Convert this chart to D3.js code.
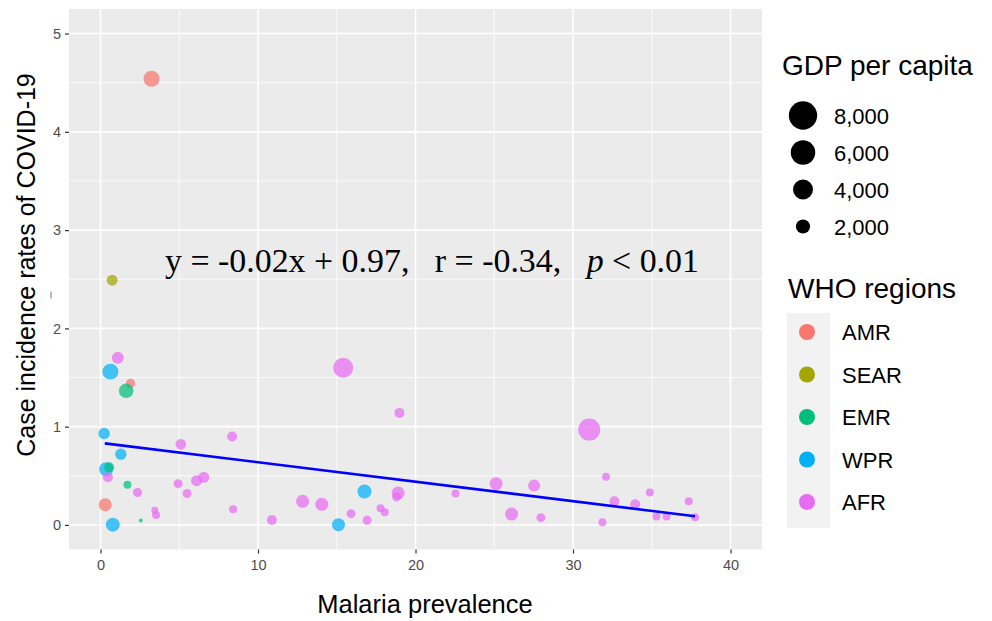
<!DOCTYPE html>
<html>
<head>
<meta charset="utf-8">
<script src="https://cdn.jsdelivr.net/npm/d3@7"></script>
<style>
  body { margin: 0; background: #fff; }
  svg { font-family: Arial, "Liberation Sans", sans-serif; }
</style>
</head>
<body>
<svg id="graph" width="992" height="621"></svg>
<script>
// WHO region colours (ggplot default hue palette)
const regions = ['AMR', 'SEAR', 'EMR', 'WPR', 'AFR']
const regionColors = ['#F8766D', '#A3A500', '#00BF7D', '#00B0F6', '#E76BF3']

// one entry per country
const region = ['AMR','SEAR','AFR','WPR','AMR','EMR','WPR','AFR','AFR','WPR',
  'WPR','EMR','AFR','EMR','AFR','AMR','WPR','EMR','AFR','AFR',
  'AFR','AFR','AFR','AFR','AFR','AFR','AFR','AFR','AFR','WPR',
  'WPR','AFR','AFR','AFR','AFR','AFR','AFR','AFR','AFR','AFR',
  'AFR','AFR','AFR','AFR','AFR','AFR','AFR','AFR','AFR','AFR',
  'AFR','AFR','AFR']
const malaria = [3.24,0.74,1.10,0.63,1.90,1.63,0.23,5.10,8.36,1.29,
  0.36,0.55,0.47,1.71,2.35,0.30,0.78,2.56,3.45,3.53,
  4.93,5.50,6.10,6.56,8.42,10.88,12.83,14.05,15.41,15.11,
  16.76,15.91,16.93,17.78,18.05,18.98,18.90,18.80,22.54,25.12,
  26.10,27.53,27.96,31.03,32.10,31.87,32.63,33.95,34.88,35.30,
  35.94,37.35,37.75]
const incidence = [4.54,2.49,1.70,1.56,1.44,1.365,0.93,0.82,0.90,0.72,
  0.566,0.586,0.485,0.41,0.33,0.206,0.003,0.044,0.15,0.10,
  0.42,0.32,0.45,0.485,0.16,0.05,0.24,0.21,1.60,0.003,
  0.34,0.115,0.048,0.17,0.13,1.14,0.325,0.285,0.32,0.42,
  0.11,0.40,0.074,0.97,0.49,0.027,0.24,0.21,0.33,0.085,
  0.085,0.24,0.078]
const gdp = [4350,2060,2450,4350,1500,3630,2210,1900,1700,2210,
  3330,1700,1700,1090,1380,2875,3330,270,830,1090,
  1380,1380,2060,2060,1090,1700,2875,2875,6800,2875,
  3330,1380,1380,1090,1090,1700,2875,1380,1090,2875,
  2875,2450,1380,8230,1090,1090,1700,1700,1090,1090,
  1090,1090,1090]

// linear fit, endpoints
const fitX = [0.27, 37.75]
const fitY = [0.83, 0.088]

const xTicks = [0, 10, 20, 30, 40]
const yTicks = [0, 1, 2, 3, 4, 5]
const sizeBreaks = [8000, 6000, 4000, 2000]

const svg = d3.select('#graph')
const panel = {left: 69, right: 762, top: 9, bottom: 549.5}

const x = d3.scaleLinear().domain([-2, 42]).range([panel.left, panel.right])
const y = d3.scaleLinear().domain([-0.25, 5.25]).range([panel.bottom, panel.top])
const color = d3.scaleOrdinal().domain(regions).range(regionColors)
const size = d3.scaleSqrt().domain([0, 9000]).range([0, 11.5])
const legendSize = d3.scaleSqrt().domain([0, 9000]).range([0, 15])

// panel background + grid
svg.append('rect')
  .attr('x', panel.left).attr('y', panel.top)
  .attr('width', panel.right - panel.left).attr('height', panel.bottom - panel.top)
  .attr('fill', '#EBEBEB')

const minorX = d3.range(-5, 45, 5).filter(v => v % 10 !== 0 && x(v) > panel.left && x(v) < panel.right)
const minorY = d3.range(-0.5, 5.5, 0.5).filter(v => v % 1 !== 0 && y(v) < panel.bottom && y(v) > panel.top)

svg.selectAll('.minor-x').data(minorX).enter().append('line')
  .attr('x1', d => x(d)).attr('x2', d => x(d))
  .attr('y1', panel.top).attr('y2', panel.bottom)
  .attr('stroke', '#fff').attr('stroke-width', 0.8)
svg.selectAll('.minor-y').data(minorY).enter().append('line')
  .attr('y1', d => y(d)).attr('y2', d => y(d))
  .attr('x1', panel.left).attr('x2', panel.right)
  .attr('stroke', '#fff').attr('stroke-width', 0.8)
svg.selectAll('.major-x').data(xTicks).enter().append('line')
  .attr('x1', d => x(d)).attr('x2', d => x(d))
  .attr('y1', panel.top).attr('y2', panel.bottom)
  .attr('stroke', '#fff').attr('stroke-width', 1.6)
svg.selectAll('.major-y').data(yTicks).enter().append('line')
  .attr('y1', d => y(d)).attr('y2', d => y(d))
  .attr('x1', panel.left).attr('x2', panel.right)
  .attr('stroke', '#fff').attr('stroke-width', 1.6)

// axes
const xAxis = svg.append('g')
  .attr('transform', `translate(0,${panel.bottom})`)
  .call(d3.axisBottom(x).tickValues(xTicks).tickFormat(d3.format('d')).tickSize(4).tickPadding(6))
const yAxis = svg.append('g')
  .attr('transform', `translate(${panel.left},0)`)
  .call(d3.axisLeft(y).tickValues(yTicks).tickFormat(d3.format('d')).tickSize(4).tickPadding(4))

;[xAxis, yAxis].forEach(g => {
  g.select('.domain').remove()
  g.selectAll('line').attr('stroke', '#333').attr('stroke-width', 1.2)
  g.selectAll('text').attr('fill', '#4D4D4D').style('font-size', '14.5px')
    .style('font-family', 'Arial, "Liberation Sans", sans-serif')
})

// points
const pts = d3.range(malaria.length).map(i => ({
  x: malaria[i], y: incidence[i], g: gdp[i], r: region[i]
}))
svg.append('g').selectAll('circle').data(pts).enter().append('circle')
  .attr('cx', d => x(d.x)).attr('cy', d => y(d.y))
  .attr('r', d => size(d.g))
  .attr('fill', d => color(d.r))
  .attr('fill-opacity', 0.72)

// regression line
const fit = fitX.map((v, i) => [v, fitY[i]])
svg.append('path')
  .attr('d', d3.line().x(d => x(d[0])).y(d => y(d[1]))(fit))
  .attr('fill', 'none').attr('stroke', '#0000FF').attr('stroke-width', 2.6)

// equation
const eq = svg.append('text')
  .attr('x', 165).attr('y', 272)
  .attr('xml:space', 'preserve')
  .style('font-family', '"Liberation Serif", "Times New Roman", serif')
  .style('font-size', '33.9px').attr('fill', '#000')
eq.append('tspan').text('y = -0.02x + 0.97,   r = -0.34,   ')
eq.append('tspan').style('font-style', 'italic').text('p')
eq.append('tspan').text(' < 0.01')

// stray mark left of the axis
svg.append('line')
  .attr('x1', 51).attr('x2', 51).attr('y1', 291.5).attr('y2', 298.5)
  .attr('stroke', '#6272d0').attr('stroke-width', 1)

// axis titles
svg.append('text')
  .attr('transform', 'translate(35,265) rotate(-90)')
  .attr('text-anchor', 'middle')
  .style('font-size', '25px').attr('fill', '#000')
  .text('Case incidence rates of COVID-19')
svg.append('text')
  .attr('x', 425).attr('y', 613)
  .attr('text-anchor', 'middle')
  .style('font-size', '25.5px').attr('fill', '#000')
  .text('Malaria prevalence')

// size legend
svg.append('text').attr('x', 782).attr('y', 75)
  .style('font-size', '28px').text('GDP per capita')
const sl = svg.append('g').selectAll('g').data(sizeBreaks).enter().append('g')
  .attr('transform', (d, i) => `translate(803,${115.5 + i * 37})`)
sl.append('circle').attr('r', d => legendSize(d)).attr('fill', '#000')
sl.append('text').attr('x', 31).attr('y', 8)
  .style('font-size', '22px').text(d => d3.format(',')(d))

// region legend
svg.append('text').attr('x', 788).attr('y', 298)
  .style('font-size', '28px').text('WHO regions')
svg.append('rect').attr('x', 787).attr('y', 313).attr('width', 43).attr('height', 215)
  .attr('fill', '#F2F2F2')
const rl = svg.append('g').selectAll('g').data(regions).enter().append('g')
  .attr('transform', (d, i) => `translate(807,${332 + i * 42.5})`)
rl.append('circle').attr('r', 8).attr('fill', d => color(d))
rl.append('text').attr('x', 35).attr('y', 8)
  .style('font-size', '22px').text(d => d)
</script>
</body>
</html>
